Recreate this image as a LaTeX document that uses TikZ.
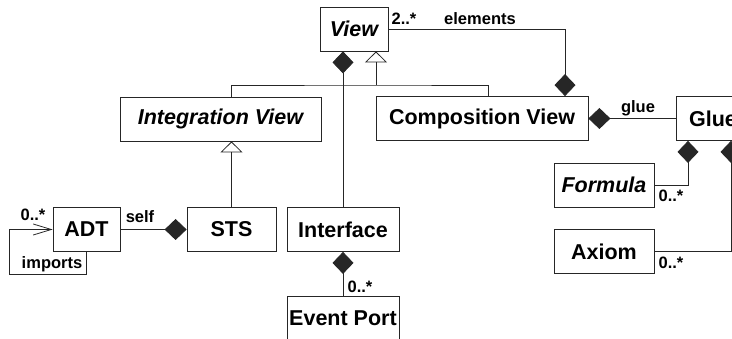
\documentclass[tikz,border=0pt]{standalone}
\usepackage{fontspec}
\setmainfont{Liberation Sans}
\usetikzlibrary{arrows.meta}

\begin{document}
\begin{tikzpicture}[x=1pt, y=-1pt, line width=0.8pt, draw=black!85,
  cls/.style={draw, rectangle, minimum height=44pt, inner sep=0pt,
    font=\fontsize{21.5}{24}\selectfont\bfseries},
  lbl/.style={inner sep=0pt, font=\fontsize{16.5}{19}\selectfont\bfseries},
  comp/.style={-{Diamond[length=22pt,width=21pt]}},
  gen/.style={-{Triangle[open,length=11pt,width=22pt]}},
  nav/.style={-{Straight Barb[length=18pt,width=11pt]}}]
\useasboundingbox (0,0) rectangle (732,339);
\clip (0,0) rectangle (732,339);

\node[cls, minimum width=68pt] (View) at (354,29) {\itshape View};
\node[cls, minimum width=201pt] (IntView) at (220.5,119) {\itshape Integration View};
\node[cls, minimum width=212pt] (CompView) at (482,118.5) {Composition View};
\node[cls, minimum width=74pt] (Glue) at (713,118.5) {Glue};
\node[cls, minimum width=100pt] (Formula) at (604,185) {\itshape Formula};
\node[cls, minimum width=100pt] (Axiom) at (604,251.5) {Axiom};
\node[cls, minimum width=67pt] (ADT) at (86.5,229.5) {ADT};
\node[cls, minimum width=89pt] (STS) at (231.5,229.5) {STS};
\node[cls, minimum width=112pt] (Interface) at (343,229.5) {Interface};
\node[cls, minimum width=112pt] (EventPort) at (343,318) {Event Port};

\coordinate (genj) at (376,85);
\coordinate (genr) at (488,85);
\coordinate (elem) at (565,29);
\coordinate (loop) at (9,274);

\draw[gen] (genj) -- (genj |- View.south);
\draw (STS.north |- IntView.north) |- (genj) -- (genr) -- (genr |- CompView.north);
\draw[gen] (STS.north) -- (STS.north |- IntView.south);
\draw[comp] (Interface.north) -- (Interface.north |- View.south);
\draw[comp] (View.east |- elem) -- (elem) -- (elem |- CompView.north);
\draw[comp] (Glue.west) -- (CompView.east);
\draw[comp] (Formula.east) -| ([xshift=-25pt]Glue.south);
\draw[comp] (Axiom.east) -| ([xshift=18pt]Glue.south);
\draw[comp] (ADT.east) -- (STS.west);
\draw[comp] (EventPort.north) -- (Interface.south);
\draw[nav] (ADT.south) |- (loop) |- (ADT.west);

\node[lbl] (mElem) at (404,19) {2..*};
\node[lbl] (rElem) at (480,19) {elements};
\node[lbl] (rGlue) at (638,108) {glue};
\node[lbl] (rSelf) at (140,217) {self};
\node[lbl] (mImp) at (33,215) {0..*};
\node[lbl] (rImp) at (52,264) {imports};
\node[lbl] (mPort) at (360,287) {0..*};
\node[lbl] (mForm) at (671,196) {0..*};
\node[lbl] (mAx) at (671,263) {0..*};
\end{tikzpicture}
\end{document}
